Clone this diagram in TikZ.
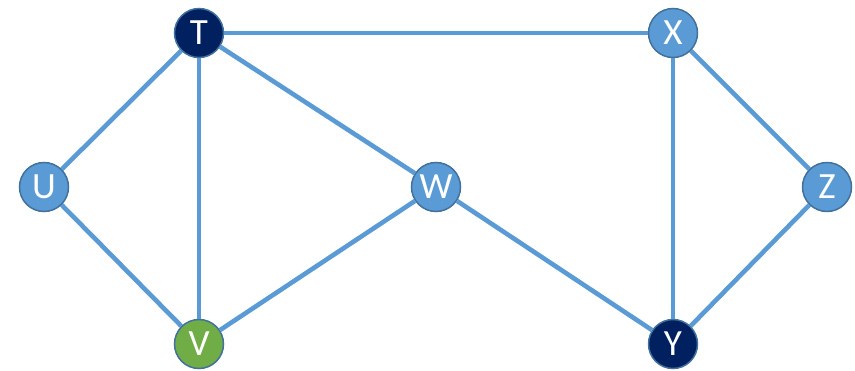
\documentclass[tikz,border=0pt]{standalone}
\usepackage{fontspec}
\setmainfont{Carlito}
\definecolor{lblue}{HTML}{5B9BD5}
\definecolor{navy}{HTML}{002060}
\definecolor{vgreen}{HTML}{70AD47}
\definecolor{rim}{HTML}{41719C}
\begin{document}
\begin{tikzpicture}[x=1pt,y=-1pt,
  vtx/.style={circle,draw=rim,line width=1.5pt,minimum size=49pt,inner sep=0pt,text=white,font=\fontsize{37}{37}\selectfont},
  edge/.style={draw=lblue,line width=4.6pt}]
\useasboundingbox (0,0) rectangle (855,370);
\node[vtx,fill=navy] (T) at (199,33) {T};
\node[vtx,fill=lblue] (X) at (673,33) {X};
\node[vtx,fill=lblue] (U) at (44,187) {U};
\node[vtx,fill=lblue] (W) at (436,187) {W};
\node[vtx,fill=lblue] (Z) at (827,187) {Z};
\node[vtx,fill=vgreen] (V) at (199,344) {V};
\node[vtx,fill=navy] (Y) at (673,344) {Y};
\path[edge] (T) -- (X);
\path[edge] (T) -- (U);
\path[edge] (T) -- (V);
\path[edge] (T) -- (W);
\path[edge] (U) -- (V);
\path[edge] (V) -- (W);
\path[edge] (W) -- (Y);
\path[edge] (X) -- (Y);
\path[edge] (X) -- (Z);
\path[edge] (Z) -- (Y);
\end{tikzpicture}
\end{document}
